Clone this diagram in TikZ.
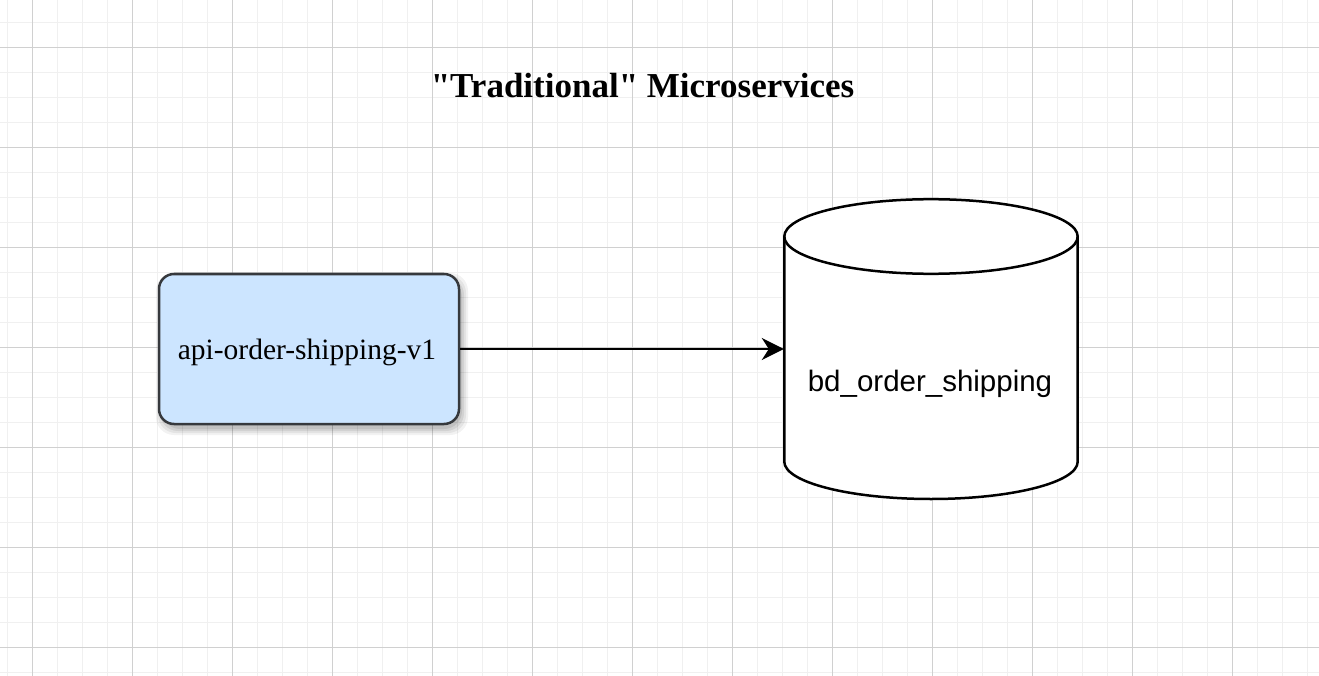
\documentclass[tikz,border=0pt]{standalone}
\usepackage{fontspec}
\setmainfont{Liberation Serif}
\newfontfamily\titlefont{Liberation Serif}[Ligatures=TeXOff]
\newfontfamily\arialf{Liberation Sans}
\usetikzlibrary{arrows.meta}
\definecolor{gridminor}{HTML}{F0F0F0}
\definecolor{gridmajor}{HTML}{D0D0D0}
\definecolor{boxfill}{HTML}{CCE5FF}
\definecolor{boxline}{HTML}{36393D}
\tikzset{
  apibox/.style={draw=boxline, fill=boxfill, line width=2.5pt, rounded corners=15pt,
    minimum width=300pt, minimum height=150pt, inner sep=0pt},
  shadowlayer/.style={fill=black, draw=none, rounded corners=18pt},
  dbbox/.style={inner sep=0pt, minimum width=294pt, minimum height=300pt},
  conn/.style={line width=2.5pt, -{Stealth[length=22pt, width=22pt, inset=7pt]}},
  lbl/.style={inner sep=0pt, font=\fontsize{29.5}{30}\selectfont},
}
\begin{document}
\begin{tikzpicture}[x=1pt, y=-1pt]
\useasboundingbox (0,0) rectangle (1319,676);
\fill[white] (0,0) rectangle (1319,676);
% minor grid
\foreach \x in {7.5,32.5,...,1319} \draw[gridminor, line width=1pt] (\x,0) -- (\x,676);
\foreach \y in {22.5,47.5,...,676} \draw[gridminor, line width=1pt] (0,\y) -- (1319,\y);
% major grid
\foreach \x in {32.5,132.5,...,1319} \draw[gridmajor, line width=1pt] (\x,0) -- (\x,676);
\foreach \y in {47.5,147.5,...,676} \draw[gridmajor, line width=1pt] (0,\y) -- (1319,\y);

% title
\node[anchor=base, inner sep=0pt, font=\titlefont\fontsize{35}{36}\selectfont\bfseries] (title) at (642.5,97.3) {"Traditional" Microservices};

% soft shadow of api box
\foreach \d/\o in {6/0.05,4/0.06,2/0.07,0/0.08}
  \fill[shadowlayer, opacity=\o] (159+3-\d,274+5-\d) rectangle (459+3+\d,424+5+\d);
% api box
\node[apibox] (api) at (309,349) {};
\node[lbl, anchor=base] (apitext) at (307,359.3) {api-order-shipping-v1};

% cylinder
\draw[line width=2.5pt, fill=white] (784.3,236.5) -- (784.3,461.7)
  arc[start angle=180, end angle=360, x radius=146.7pt, y radius=37.3pt]
  -- (1077.7,236.5)
  arc[start angle=0, end angle=180, x radius=146.7pt, y radius=37.3pt] -- cycle;
\draw[line width=2.5pt] (784.3,236.5) arc[start angle=180, end angle=360, x radius=146.7pt, y radius=37.3pt];
\node[dbbox] (db) at (931,349) {};
\node[lbl, anchor=base, font=\arialf\fontsize{29.5}{30}\selectfont] (dbtext) at (930,391.7) {bd\_order\_shipping};

% connector
\draw[conn] (api.east) -- (db.west);
\end{tikzpicture}
\end{document}
